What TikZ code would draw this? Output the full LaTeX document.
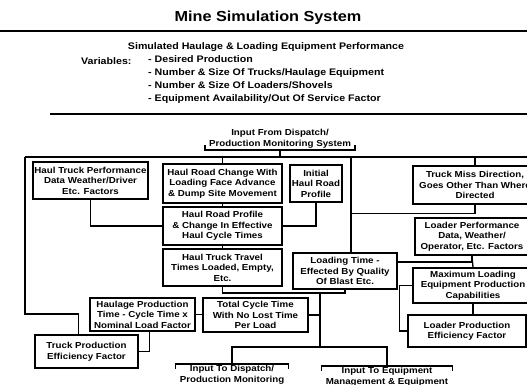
\documentclass[tikz,border=0pt]{standalone}
\usepackage{fontspec}
\setmainfont{Liberation Sans}
\newfontfamily\diagfont[FakeStretch=1.12]{Liberation Sans}
\usetikzlibrary{positioning}
\newcommand{\boxfont}{\diagfont\bfseries\fontsize{8.7}{10.5}\selectfont}
\newcommand{\headfont}{\diagfont\bfseries\fontsize{9.5}{13}\selectfont}
\newcommand{\titlefont}{\diagfont\bfseries\fontsize{14.5}{16}\selectfont}
\tikzset{
  blk/.style={draw,line width=1.5pt,align=center,font=\boxfont,inner sep=1pt},
  sz/.style 2 args={minimum width=#1pt,minimum height=#2pt},
  link/.style={line width=1.3pt},
  brk/.style={align=center,font=\boxfont,inner xsep=4pt,inner ysep=1.5pt},
  rulel/.style={line width=1.9pt},
}

\begin{document}
\begin{tikzpicture}[x=1pt,y=-1pt]
  \useasboundingbox (0,0) rectangle (527,385);
  \clip (0,0) rectangle (527,385);

  % heading
  \node[font=\titlefont] (title) at (268,18) {Mine Simulation System};
  \draw[rulel] (0,31) -- (527,31);
  \node[font=\headfont] (sub) at (266,47) {Simulated Haulage \& Loading Equipment Performance};
  \node[font=\headfont,anchor=west,inner sep=0pt] (varl) at (81,61) {Variables:};
  \node[font=\headfont,anchor=north west,align=left,inner sep=0pt] (vars) at (148,55)
    {- Desired Production\\
     - Number \& Size Of Trucks/Haulage Equipment\\
     - Number \& Size Of Loaders/Shovels\\
     - Equipment Availability/Out Of Service Factor};
  \draw[rulel] (50,114) -- (527,114);

  % input bracket and bus
  \node[brk] (ifd) at (280,139) {Input From Dispatch/\\Production Monitoring System};
  \draw[link] ([yshift=5pt]ifd.south west) -- (ifd.south west) -- (ifd.south east) -- ([yshift=5pt]ifd.south east);
  \coordinate (busL) at (25,157);
  \coordinate (busR) at (530,157);
  \coordinate (jr) at (351,157);
  \draw[link] (busL) -- (busR);
  \draw[link] (ifd.south) -- (ifd.south |- busL);

  % boxes
  \node[blk,sz={115}{37}] (htp) at (90.5,180.5) {Haul Truck Performance\\Data Weather/Driver\\Etc. Factors};
  \node[blk,sz={119}{39}] (hrc) at (222.5,183.5) {Haul Road Change With\\Loading Face Advance\\\& Dump Site Movement};
  \node[blk,sz={52}{37}] (ihr) at (316,183.5) {Initial\\Haul Road\\Profile};
  \node[blk,sz={124}{38}] (tmd) at (475,185) {Truck Miss Direction,\\Goes Other Than Where\\Directed};
  \node[blk,sz={119}{38}] (hrp) at (222.5,226) {Haul Road Profile\\\& Change In Effective\\Haul Cycle Times};
  \node[blk,sz={114}{37}] (lpd) at (472,236.5) {Loader Performance\\Data, Weather/\\Operator, Etc. Factors};
  \node[blk,sz={119}{37}] (htt) at (222.5,267.5) {Haul Truck Travel\\Times Loaded, Empty,\\Etc.};
  \node[blk,sz={104}{36}] (ltm) at (345,271) {Loading Time -\\Effected By Quality\\Of Blast Etc.};
  \node[blk,sz={120}{35}] (mlc) at (473,285.5) {Maximum Loading\\Equipment Production\\Capabilities};
  \node[blk,sz={105}{33}] (hpt) at (142.5,314.5) {Haulage Production\\Time - Cycle Time x\\Nominal Load Factor};
  \node[blk,sz={105}{34}] (tct) at (255.5,315) {Total Cycle Time\\With No Lost Time\\Per Load};
  \node[blk,sz={103}{33}] (tpe) at (86.5,351.5) {Truck Production\\Efficiency Factor};
  \node[blk,sz={118}{32}] (lpe) at (467,331) {Loader Production\\Efficiency Factor};

  % output brackets
  \node[brk] (itd) at (232,375) {Input To Dispatch/\\Production Monitoring};
  \node[brk] (ite) at (387,377) {Input To Equipment\\Management \& Equipment};
  \draw[link] ([yshift=-5pt]itd.north west) -- (itd.north west) -- (itd.north east) -- ([yshift=-5pt]itd.north east);
  \draw[link] ([yshift=-5pt]ite.north west) -- (ite.north west) -- (ite.north east) -- ([yshift=-5pt]ite.north east);

  % connectors
  \coordinate (kl) at (25,314);
  \draw[link] (busL) -- (kl) -| ([xshift=-8pt]tpe.north);
  \draw[link] (hrc.north |- busL) -- (hrc.north);
  \draw[link] (tmd.north |- busL) -- (tmd.north);
  \draw[link] (jr) -- (jr |- ltm.north);
  \draw[link] (tmd.south) -- ++(0,9) -| (jr);
  \draw[link] (htp.south) |- (hrp.west);
  \draw[link] (ihr.south) |- (hrp.east);
  \draw[link] (hrc.south) -- (hrp.north);
  \draw[link] (hrp.south) -- (htt.north);
  \coordinate (jc) at (320,293);
  \coordinate (jb) at (320,347);
  \draw[link] (htt.south) |- (jc) -| (ltm.south);
  \draw[link] (jc) -- (jb);
  \draw[link] (tct.east) -- (tct.east -| jc);
  \draw[link] (itd.north) |- (jb) -| (ite.north);
  \draw[link] (hpt.east) -- (hpt.east -| tct.west);
  \draw[link] ([xshift=7pt]hpt.south) |- (tpe.east);
  \draw[link] ([yshift=9pt]ltm.east) -| (lpd.south);
  \draw[link] (lpd.south) -- (mlc.north);
  \draw[link] (mlc.west) -- ++(-13,0) |- (lpe.west);
  \draw[link] (mlc.south) -- (mlc.south |- lpe.north);
\end{tikzpicture}
\end{document}
